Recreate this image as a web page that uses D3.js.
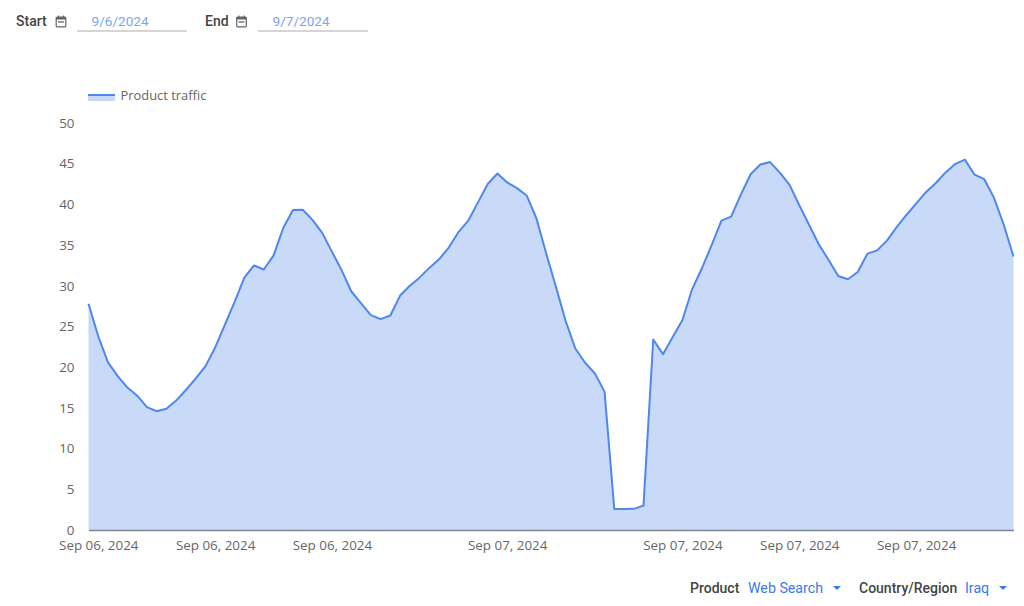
<!DOCTYPE html>
<html>
<head>
<meta charset="utf-8">
<script src="https://cdn.jsdelivr.net/npm/d3@7"></script>
<style>
    html, body { margin: 0; padding: 0; background: #fff; }
    #chart { width: 1024px; height: 606px; }
    svg { display: block; }
    .axis text { font-family: "Open Sans", sans-serif; font-size: 13.4px; fill: #666; }
    .ctl { font-family: Roboto, sans-serif; font-size: 14px; }
    .ctl-label { font-weight: 500; fill: #444; }
    .ctl-value { fill: #3a7ae8; font-size: 14.2px; }
    .ctl-date { fill: #7aa5f0; font-size: 13.6px; }
</style>
</head>
<body>
<div id="chart"></div>
<script>
// Product traffic, one value every 15 minutes
const trafficValues = [
    27.8, 23.8, 20.6, 18.9, 17.5, 16.5, 15.1, 14.6, 14.9, 15.9, 17.2, 18.6,
    20.1, 22.4, 25.2, 28.0, 31.0, 32.5, 32.0, 33.7, 37.1, 39.3, 39.35, 38.1,
    36.5, 34.2, 31.9, 29.3, 27.85, 26.4, 25.9, 26.35, 28.8, 30.0, 31.0, 32.2,
    33.25, 34.7, 36.6, 38.0, 40.25, 42.5, 43.8, 42.7, 42.0, 41.1, 38.3, 34.0,
    29.9, 25.7, 22.3, 20.55, 19.25, 17.0, 2.58, 2.58, 2.6, 3.0, 23.4, 21.6,
    23.7, 25.8, 29.6, 32.15, 35.0, 38.0, 38.5, 41.2, 43.7, 44.9, 45.2, 43.9,
    42.4, 39.9, 37.5, 35.1, 33.2, 31.2, 30.8, 31.7, 33.95, 34.35, 35.55, 37.2,
    38.7, 40.1, 41.5, 42.6, 43.9, 44.95, 45.5, 43.65, 43.1, 40.8, 37.5, 33.6
];
const xTickIndex = [1, 13, 25, 43, 61, 73, 85];
const xTickLabels = ["Sep 06, 2024", "Sep 06, 2024", "Sep 06, 2024", "Sep 07, 2024", "Sep 07, 2024", "Sep 07, 2024", "Sep 07, 2024"];
const yTicks = [0, 5, 10, 15, 20, 25, 30, 35, 40, 45, 50];
const seriesName = "Product traffic";

const width = 1024, height = 606;
const margin = {top: 123, right: 10.5, bottom: 76, left: 88.5};
const lineColor = "#4f87ee", fillColor = "#c8daf8";

const svg = d3.select("#chart").append("svg")
    .attr("width", width)
    .attr("height", height);

const x = d3.scaleLinear()
    .domain([0, trafficValues.length - 1])
    .range([margin.left, width - margin.right]);

const y = d3.scaleLinear()
    .domain([0, 50])
    .range([height - margin.bottom, margin.top]);

// Area and line
const area = d3.area()
    .x((d, i) => x(i))
    .y0(y(0))
    .y1(d => y(d));

const line = d3.line()
    .x((d, i) => x(i))
    .y(d => y(d));

svg.append("path")
    .datum(trafficValues)
    .attr("d", area)
    .attr("fill", fillColor);

svg.append("path")
    .datum(trafficValues)
    .attr("d", line)
    .attr("fill", "none")
    .attr("stroke", lineColor)
    .attr("stroke-width", 2)
    .attr("stroke-linejoin", "round");

// Axes
const xAxis = svg.append("g")
    .attr("class", "axis")
    .attr("transform", `translate(0, ${y(0)})`)
    .call(d3.axisBottom(x)
        .tickValues(xTickIndex)
        .tickFormat((d, i) => xTickLabels[i])
        .tickSize(0)
        .tickPadding(10.5));
xAxis.select(".domain").attr("stroke", "#80868b").attr("stroke-width", 1.5);

const yAxis = svg.append("g")
    .attr("class", "axis")
    .attr("transform", `translate(${margin.left - 14}, 0)`)
    .call(d3.axisLeft(y)
        .tickValues(yTicks)
        .tickSize(0)
        .tickPadding(0));
yAxis.select(".domain").remove();

// Legend
svg.append("rect")
    .attr("x", 88).attr("y", 95)
    .attr("width", 27).attr("height", 6)
    .attr("fill", fillColor);
svg.append("line")
    .attr("x1", 88).attr("x2", 115)
    .attr("y1", 95).attr("y2", 95)
    .attr("stroke", lineColor)
    .attr("stroke-width", 2);
svg.append("text")
    .attr("x", 120.5).attr("y", 99.5)
    .style("font-family", '"Open Sans", sans-serif')
    .style("font-size", "12.9px")
    .style("fill", "#666")
    .text(seriesName);

// Date range controls
function calendarIcon(px, py) {
    let g = svg.append("g").attr("transform", `translate(${px}, ${py})`);
    g.append("rect").attr("x", 0.7).attr("y", 1.7).attr("width", 9.6).attr("height", 9.6)
        .attr("rx", 1).attr("fill", "none").attr("stroke", "#5f6368").attr("stroke-width", 1.2);
    g.append("rect").attr("x", 0.7).attr("y", 1.7).attr("width", 9.6).attr("height", 2.3).attr("fill", "#5f6368");
    g.append("rect").attr("x", 2.3).attr("y", 0).attr("width", 1.2).attr("height", 2).attr("fill", "#5f6368");
    g.append("rect").attr("x", 7.5).attr("y", 0).attr("width", 1.2).attr("height", 2).attr("fill", "#5f6368");
    g.append("rect").attr("x", 2.6).attr("y", 5.8).attr("width", 5.8).attr("height", 1.3).attr("fill", "#5f6368");
}

function dateControl(label, labelX, iconX, value, valueX, ruleX) {
    svg.append("text").attr("class", "ctl ctl-label").attr("x", labelX).attr("y", 26).text(label);
    calendarIcon(iconX, 15.5);
    svg.append("text").attr("class", "ctl ctl-date").attr("x", valueX).attr("y", 26).text(value);
    svg.append("line")
        .attr("x1", ruleX).attr("x2", ruleX + 110)
        .attr("y1", 31).attr("y2", 31)
        .attr("stroke", "#c8c8c8").attr("stroke-width", 1.5);
}
dateControl("Start", 16, 55.5, "9/6/2024", 91.5, 77);
dateControl("End", 205, 236, "9/7/2024", 272.5, 258);

// Dropdown controls
function dropdown(label, labelX, value, valueX, arrowX) {
    svg.append("text").attr("class", "ctl ctl-label").attr("x", labelX).attr("y", 593).text(label);
    svg.append("text").attr("class", "ctl ctl-value").attr("x", valueX).attr("y", 593).text(value);
    svg.append("path")
        .attr("d", `M${arrowX},586 h8 l-4,4 z`)
        .attr("fill", "#3a7ae8");
}
dropdown("Product", 690, "Web Search", 748, 833);
dropdown("Country/Region", 859, "Iraq", 965, 999);
</script>
</body>
</html>
